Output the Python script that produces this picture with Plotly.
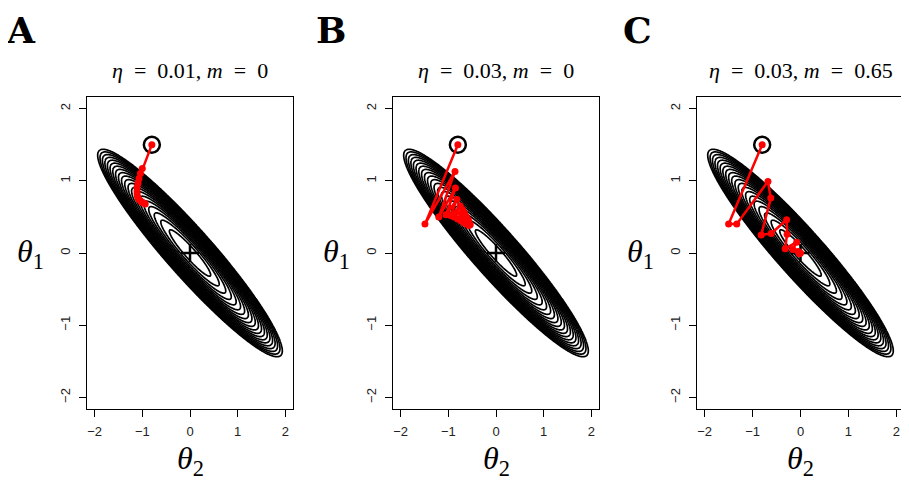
import numpy as np
import plotly.graph_objects as go

# ---------------- data ----------------
panel_letters = ["A", "B", "C"]
panel_titles = ["<i>η</i>&nbsp; = &nbsp;0.01, <i>m</i>&nbsp; = &nbsp;0",
                "<i>η</i>&nbsp; = &nbsp;0.03, <i>m</i>&nbsp; = &nbsp;0",
                "<i>η</i>&nbsp; = &nbsp;0.03, <i>m</i>&nbsp; = &nbsp;0.65"]

tick_vals = [-2, -1, 0, 1, 2]
tick_text = ["−2", "−1", "0", "1", "2"]

h11, h12, h22 = 2.395, 3.043, 4.351
n_levels = 20
level_max = 1.0

start_t2, start_t1 = -0.80, 1.50
min_t2, min_t1 = 0.0, 0.0

path_a_t2 = [-0.80, -1.00, -1.04, -1.07, -1.09, -1.11, -1.11, -1.11, -1.10, -1.08, -1.05, -1.02, -0.99, -0.96, -0.94]
path_a_t1 = [1.50, 1.17, 1.10, 1.03, 0.97, 0.91, 0.86, 0.82, 0.78, 0.75, 0.73, 0.71, 0.70, 0.69, 0.68]

path_b_t2 = [-0.80, -1.49, -0.86, -1.20, -0.85, -1.05, -0.82, -0.95, -0.75, -0.88, -0.70, -0.80, -0.66, -0.74, -0.62, -0.68, -0.58, -0.62, -0.56, -0.57, -0.54]
path_b_t1 = [1.50, 0.40, 1.13, 0.50, 0.90, 0.53, 0.74, 0.52, 0.65, 0.50, 0.60, 0.47, 0.55, 0.45, 0.50, 0.42, 0.46, 0.40, 0.42, 0.38, 0.39]

path_c_t2 = [-0.80, -1.50, -1.33, -0.68, -0.62, -0.82, -0.61, -0.29, -0.28, -0.32, -0.08, -0.16, -0.05, -0.02, 0.00]
path_c_t1 = [1.50, 0.40, 0.40, 0.99, 0.76, 0.25, 0.27, 0.46, 0.26, 0.06, 0.15, 0.05, 0.02, -0.01, 0.00]

paths = [(path_a_t2, path_a_t1), (path_b_t2, path_b_t1), (path_c_t2, path_c_t1)]

# ---------------- layout geometry ----------------
W, H = 909, 490
OFF = 8  # page offset of the plot div
def fx(px):
    return (px - OFF) / W
def fy(py):
    return 1 - (py - OFF) / H

x_domains = [(fx(87), fx(293)), (fx(393), fx(599)), (fx(697), fx(904))]
y_domain = (fy(409), fy(97))
ax_range = [-2.16, 2.16]

grid = np.linspace(-2.16, 2.16, 420)
G2, G1 = np.meshgrid(grid, grid)
Z = h11 * G2 ** 2 + 2 * h12 * G2 * G1 + h22 * G1 ** 2

fig = go.Figure()
for i in range(3):
    xa = "x" if i == 0 else f"x{i+1}"
    ya = "y" if i == 0 else f"y{i+1}"
    fig.add_trace(go.Contour(
        x=grid, y=grid, z=Z, xaxis=xa, yaxis=ya,
        contours=dict(coloring="lines", start=level_max / n_levels, end=level_max,
                      size=level_max / n_levels, showlabels=False),
        line=dict(color="black", width=1.7),
        colorscale=[[0, "black"], [1, "black"]], showscale=False,
        hoverinfo="skip"))
    fig.add_trace(go.Scatter(
        x=[min_t2], y=[min_t1], xaxis=xa, yaxis=ya, mode="markers",
        marker=dict(symbol="cross-thin", size=13, line=dict(color="black", width=2.5)),
        showlegend=False, hoverinfo="skip"))
    fig.add_trace(go.Scatter(
        x=[start_t2], y=[start_t1], xaxis=xa, yaxis=ya, mode="markers",
        marker=dict(symbol="circle-open", size=16, color="black", line=dict(color="black", width=2.5)),
        showlegend=False, hoverinfo="skip"))
    px, py = paths[i]
    fig.add_trace(go.Scatter(
        x=px, y=py, xaxis=xa, yaxis=ya, mode="lines+markers",
        line=dict(color="#ff0000", width=2.5),
        marker=dict(color="#ff0000", size=7),
        showlegend=False, hoverinfo="skip"))

axis_common = dict(range=ax_range, tickvals=tick_vals, ticktext=tick_text,
                   ticks="outside", ticklen=7, tickwidth=1.2, tickcolor="black",
                   showline=True, linecolor="black", linewidth=1.3, mirror=True,
                   showgrid=False, zeroline=False,
                   tickfont=dict(family="Liberation Sans, Arial, sans-serif", size=13, color="#222"))

layout = dict(width=W, height=H, margin=dict(l=0, r=0, t=0, b=0),
              paper_bgcolor="white", plot_bgcolor="white", showlegend=False)
for i in range(3):
    xk = "xaxis" if i == 0 else f"xaxis{i+1}"
    yk = "yaxis" if i == 0 else f"yaxis{i+1}"
    layout[xk] = dict(axis_common, domain=list(x_domains[i]),
                      anchor="y" if i == 0 else f"y{i+1}", ticklabelstandoff=3)
    layout[yk] = dict(axis_common, domain=list(y_domain),
                      anchor="x" if i == 0 else f"x{i+1}", tickangle=-90, ticklabelstandoff=4)
fig.update_layout(**layout)

letter_x = [21, 331, 637]
serif = "Liberation Serif"
annotations = []
for i in range(3):
    x0, x1 = x_domains[i]
    cx = (x0 + x1) / 2
    annotations.append(dict(text="<b>" + panel_letters[i] + "</b>", x=fx(letter_x[i]), y=1.0,
                            xref="paper", yref="paper", showarrow=False, xanchor="center", yanchor="top",
                            borderpad=0,
                            font=dict(family="DejaVu Serif", size=36, color="black")))
    annotations.append(dict(text=panel_titles[i], x=cx, y=fy(71),
                            xref="paper", yref="paper", showarrow=False, xanchor="center", yanchor="middle",
                            font=dict(family=serif, size=22, color="black")))
    annotations.append(dict(text="<i>θ</i><sub>2</sub>", x=cx, y=fy(460),
                            xref="paper", yref="paper", showarrow=False, xanchor="center", yanchor="middle",
                            font=dict(family=serif, size=32, color="black")))
    annotations.append(dict(text="<i>θ</i><sub>1</sub>", x=fx(x_domains[i][0] * W + OFF - 57),
                            y=(y_domain[0] + y_domain[1]) / 2,
                            xref="paper", yref="paper", showarrow=False, xanchor="center", yanchor="middle",
                            font=dict(family=serif, size=32, color="black")))
fig.update_layout(annotations=annotations)

fig.write_html("out.html")
